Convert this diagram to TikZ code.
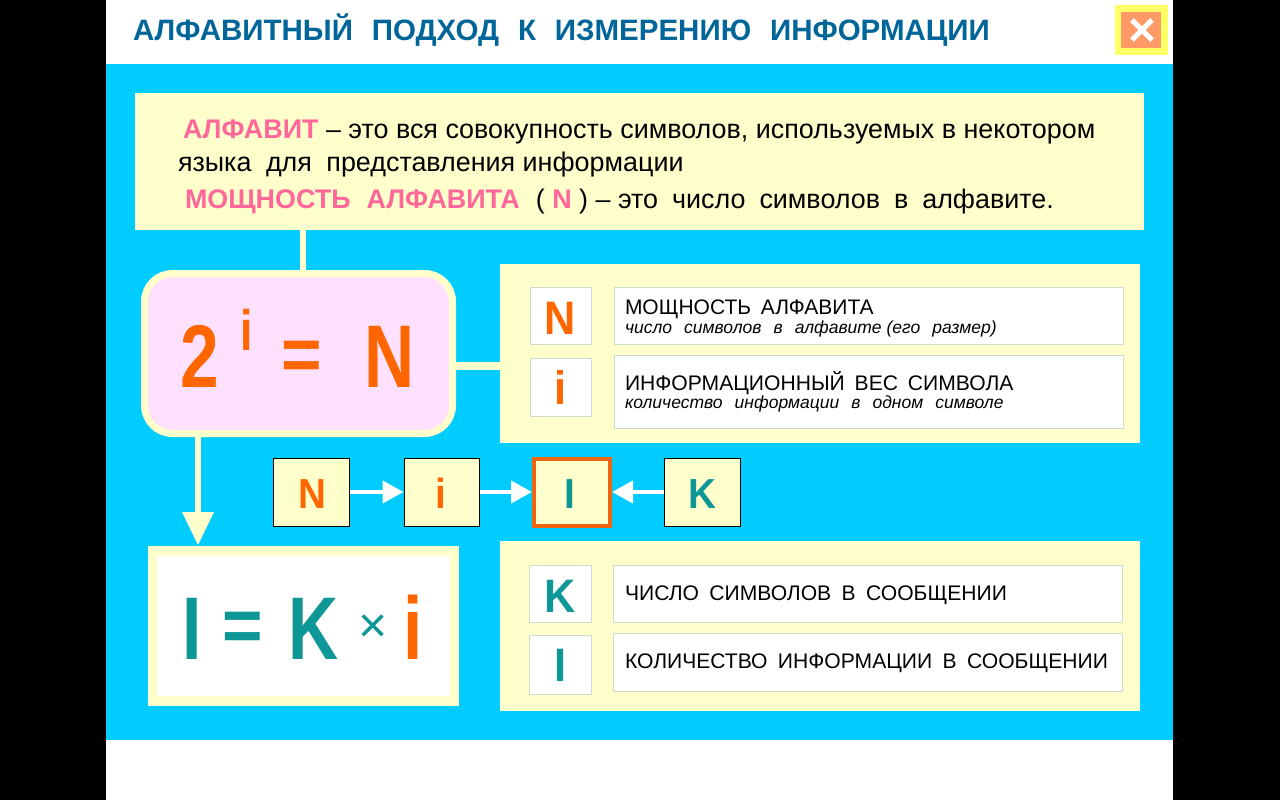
\documentclass[tikz,border=0pt]{standalone}
\usepackage{fontspec}
\setmainfont{Liberation Sans}
\usetikzlibrary{arrows.meta}
\definecolor{sky}{HTML}{00CCFF}
\definecolor{cream}{HTML}{FFFFCC}
\definecolor{pinkf}{HTML}{FFE0FF}
\definecolor{org}{HTML}{FF6600}
\definecolor{orgb}{HTML}{EE6611}
\definecolor{teal2}{HTML}{0D9797}
\definecolor{ttl}{HTML}{006699}
\definecolor{rose}{HTML}{FF6699}
\definecolor{pale}{HTML}{CCDDCC}
\definecolor{btn}{HTML}{FF9966}
\definecolor{btnrim}{HTML}{FFFF66}
\newcommand{\fs}[1]{\fontsize{#1}{#1}\selectfont}
\newcommand{\nar}[1]{\scalebox{0.78}[1]{#1}}
\newcommand{\nareq}{\scalebox{0.78}[0.85]{=}}
\newcommand{\narb}[1]{\scalebox{0.92}[1]{#1}}
\tikzset{
 x=1pt,y=-1pt,
 txt/.style={anchor=base west,inner sep=0pt,outer sep=0pt,text=black},
 sym/.style={anchor=base,inner sep=0pt,outer sep=0pt,font=\bfseries},
 cell/.style={draw=pale,line width=1pt,fill=white,inner sep=0pt,anchor=north west},
 rowbox/.style={draw=black,line width=1pt,fill=cream,inner sep=0pt,anchor=north west},
 plate/.style={fill=cream,inner sep=0pt,outer sep=0pt,anchor=north west},
 creamline/.style={draw=cream},
 whitearrow/.style={draw=white,line width=4pt,-{Triangle[length=21pt,width=22pt,fill=white]}},
}
\begin{document}
\begin{tikzpicture}
\useasboundingbox (0,0) rectangle (1280,800);
\fill[white] (0,0) rectangle (1280,800);
\fill[black] (0,0) rectangle (106,800);
\fill[black] (1173,0) rectangle (1280,800);
\fill[sky] (106,64) rectangle (1173,740);
% close button
\fill[btnrim] (1115,5) rectangle (1168,55);
\fill[btn] (1121,12) rectangle (1161,48);
\draw[white,line width=5pt] (1132,20) -- (1152,40) (1152,20) -- (1132,40);
% title
\node[txt,text=ttl,font=\bfseries\fs{29.5}] (title) at (133,40.5) {АЛФАВИТНЫЙ\hspace{10.7pt} ПОДХОД\hspace{10.7pt} К\hspace{10.7pt} ИЗМЕРЕНИЮ\hspace{10.7pt} ИНФОРМАЦИИ};
% plates
\node[plate,minimum width=1009pt,minimum height=137pt] (top) at (135,93) {};
\node[plate,minimum width=640pt,minimum height=179pt] (panelA) at (500,264) {};
\node[plate,minimum width=640pt,minimum height=170pt] (panelB) at (500,541) {};
\coordinate (pinktop) at (303,273);
\coordinate (pinkright) at (453,366);
\coordinate (pinkbottom) at (198,434);
\draw[creamline,line width=6.5pt] (303,230) -- (pinktop);
\draw[creamline,line width=8pt] (pinkright) -- (500,366);
\node[draw=cream,line width=7pt,fill=pinkf,rounded corners=28pt,inner sep=0pt,outer sep=0pt,minimum width=308pt,minimum height=160pt,anchor=north west] (pink) at (144.5,273.5) {};
% big arrow
\node[plate,minimum width=311pt,minimum height=160pt] (formula) at (148,546) {};
\fill[white] (157,556) rectangle (450,696);
\draw[cream,line width=6pt] (pinkbottom) -- (198,515);
\fill[cream] (182,512) -- (214,512) -- (198,545) -- cycle;
% top text
\node[txt,font=\fs{26.9}] (t1) at (183,138.5) {\textcolor{rose}{\textbf{АЛФАВИТ}} – это вся совокупность символов, используемых в некотором};
\node[txt,font=\fs{26.9}] (t2) at (178,171) {языка\hspace{7pt} для\hspace{7pt} представления информации};
\node[txt,font=\fs{26.9}] (t3) at (185,208) {\textcolor{rose}{\textbf{МОЩНОСТЬ\hspace{8.5pt} АЛФАВИТА}}\hspace{8.5pt} ( \textcolor{rose}{\textbf{N}} ) – это\hspace{6.5pt} число\hspace{6.5pt} символов\hspace{6.5pt} в\hspace{6.5pt} алфавите.};
% formula 1
\node[sym,text=org,font=\bfseries\fs{89}] (two) at (199.5,387) {\nar{2}};
\node[sym,text=org,font=\bfseries\fs{57}] (exp) at (246.5,350) {\nar{i}};
\node[sym,text=org,font=\bfseries\fs{89}] (eq) at (301.5,380) {\nareq};
\node[sym,text=org,font=\bfseries\fs{89}] (nn) at (390,387) {\nar{N}};
% panel A
\node[cell,minimum width=61pt,minimum height=57pt] (cN) at (529.5,286.5) {};
\node[cell,minimum width=61pt,minimum height=58pt] (ci) at (529.5,357.5) {};
\node[cell,minimum width=509pt,minimum height=57pt] (dN) at (613.5,286.5) {};
\node[cell,minimum width=509pt,minimum height=73pt] (di) at (613.5,354.5) {};
\node[sym,text=org,font=\bfseries\fs{47}] (sN) at (560.5,334) {\narb{N}};
\node[sym,text=org,font=\bfseries\fs{47}] (si) at (560.5,404) {\narb{i}};
\node[txt,font=\fs{21}] (dN1) at (625,314.5) {МОЩНОСТЬ\hspace{4pt} АЛФАВИТА};
\node[txt,font=\itshape\fs{17.5}] (dN2) at (625,333.5) {число\hspace{7.2pt} символов\hspace{7.2pt} в\hspace{7.2pt} алфавите (его\hspace{7.2pt} размер)};
\node[txt,font=\fs{21.1}] (di1) at (625,390) {ИНФОРМАЦИОННЫЙ\hspace{4pt} ВЕС\hspace{4pt} СИМВОЛА};
\node[txt,font=\itshape\fs{17.5}] (di2) at (625,408) {количество\hspace{7.2pt} информации\hspace{7.2pt} в\hspace{7.2pt} одном\hspace{7.2pt} символе};
% row
\node[rowbox,minimum width=76pt,minimum height=68pt] (rN) at (272.5,457.5) {};
\node[rowbox,minimum width=75pt,minimum height=68pt] (ri) at (403.5,457.5) {};
\node[draw=orgb,line width=4pt,fill=cream,minimum width=76pt,minimum height=67pt,inner sep=0pt,anchor=north west] (rI) at (532,456.5) {};
\node[rowbox,minimum width=76pt,minimum height=68pt] (rK) at (663.5,457.5) {};
\draw[whitearrow] (rN.east) -- (ri.west);
\draw[whitearrow] (ri.east) -- (rI.west);
\draw[whitearrow] (rK.west) -- (rI.east);
\node[sym,text=org,font=\bfseries\fs{42}] (lN) at (312,508) {\narb{N}};
\node[sym,text=org,font=\bfseries\fs{42}] (li) at (440.5,508) {\narb{i}};
\node[sym,text=teal2,font=\bfseries\fs{42}] (lI) at (570,508) {\narb{I}};
\node[sym,text=teal2,font=\bfseries\fs{42}] (lK) at (702.5,508) {\narb{K}};
% formula 2
\node[sym,text=teal2,font=\fs{89}\bfseries] (fI) at (192,659) {\nar{I}};
\node[sym,text=teal2,font=\fs{89}\bfseries] (feq) at (242.5,651.5) {\nareq};
\node[sym,text=teal2,font=\fs{89}\bfseries] (fK) at (313.5,659) {\nar{K}};
\node[sym,text=teal2,font=\fs{50}] (fx) at (373,642) {×};
\node[sym,text=org,font=\fs{89}\bfseries] (fi) at (413,659) {\nar{i}};
% panel B
\node[cell,minimum width=62pt,minimum height=57pt] (cK) at (528.5,564.5) {};
\node[cell,minimum width=62pt,minimum height=59pt] (cI) at (528.5,634.5) {};
\node[cell,minimum width=509pt,minimum height=57pt] (dK) at (612.5,564.5) {};
\node[cell,minimum width=509pt,minimum height=58pt] (dI) at (612.5,632.5) {};
\node[sym,text=teal2,font=\bfseries\fs{47}] (sK) at (560.5,612) {\narb{K}};
\node[sym,text=teal2,font=\bfseries\fs{47}] (sI) at (560.5,681) {\narb{I}};
\node[txt,font=\fs{21.1}] (dK1) at (625,600) {ЧИСЛО\hspace{4.5pt} СИМВОЛОВ\hspace{4.5pt} В\hspace{4.5pt} СООБЩЕНИИ};
\node[txt,font=\fs{21.1}] (dI1) at (625,668) {КОЛИЧЕСТВО\hspace{4.5pt} ИНФОРМАЦИИ\hspace{4.5pt} В\hspace{4.5pt} СООБЩЕНИИ};
\end{tikzpicture}
\end{document}
